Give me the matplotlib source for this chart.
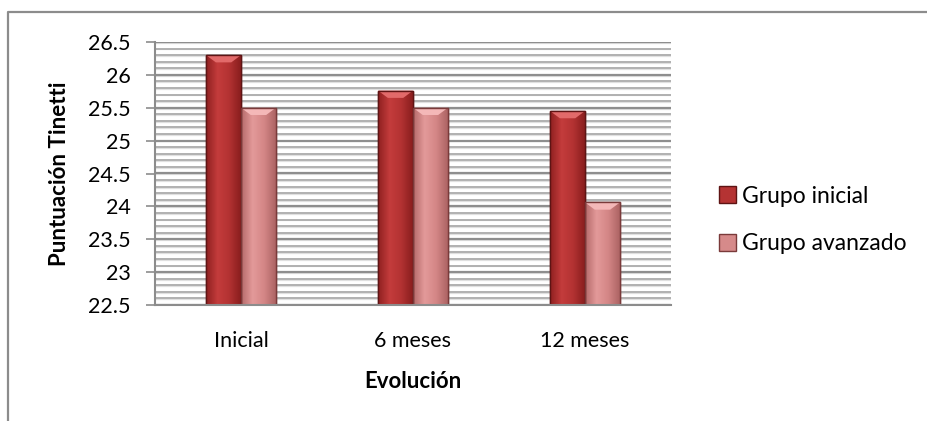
import matplotlib
matplotlib.use("Agg")
import matplotlib.pyplot as plt
import numpy as np
from matplotlib.patches import Polygon, Rectangle
from matplotlib.lines import Line2D

plt.rcParams['font.family'] = ['Lato', 'DejaVu Sans']

categories = ["Inicial", "6 meses", "12 meses"]
series_names = ["Grupo inicial", "Grupo avanzado"]
grupo_inicial = [26.3, 25.76, 25.45]
grupo_avanzado = [25.5, 25.5, 24.06]
y_ticks = [22.5, 23, 23.5, 24, 24.5, 25, 25.5, 26, 26.5]
y_tick_labels = ["22.5", "23", "23.5", "24", "24.5", "25", "25.5", "26", "26.5"]

# colour ramps across each bar (left edge -> centre -> right edge)
styles = {
    "Grupo inicial": dict(ramp=["#8F2020", "#C43C3C", "#B33232", "#8A1E1E"],
                          bevel="#E26A6A", edge="#5E1414", face="#B53333"),
    "Grupo avanzado": dict(ramp=["#B56A6A", "#E39A9A", "#D48686", "#AD6464"],
                           bevel="#F4B8B8", edge="#7A3A3A", face="#D68A8A"),
}

W, H, DPI = 928, 421, 100
fig = plt.figure(figsize=(W / DPI, H / DPI), dpi=DPI)
fig.patch.set_facecolor("white")

# chart-area frame (left and top edges visible)
fig.add_artist(Line2D([8 / W, 8 / W, 1.0], [0.0, 1 - 12 / H, 1 - 12 / H],
                      transform=fig.transFigure, color="#8C8C8C", lw=1.6))

left, right, top, bottom = 155 / W, 671 / W, 42 / H, 305 / H
ax = fig.add_axes([left, 1 - bottom, right - left, bottom - top])

ymin, ymax = 22.5, 26.5

# horizontal grid: light lines every 0.1, darker every 0.5
for v in np.arange(ymin, ymax + 1e-9, 0.1):
    major = abs(v * 2 - round(v * 2)) < 1e-6
    ax.axhline(v, color="#8E8E8E" if major else "#B0B0B0",
               lw=1.6 if major else 1.4, zorder=0.5)
    ax.axhline(v - 0.013, color="#E0E0E0", lw=0.9, zorder=0.4)

x = np.arange(len(categories))
bw = 0.203
offsets = [-bw / 2, bw / 2]
bevel_d = 0.11

for vals, name, off in zip([grupo_inicial, grupo_avanzado], series_names, offsets):
    st = styles[name]
    bars = ax.bar(x + off, np.array(vals) - ymin, bw, bottom=ymin,
                  color=st["face"], edgecolor=st["edge"], linewidth=1.0, zorder=2)
    cmap = matplotlib.colors.LinearSegmentedColormap.from_list(name, st["ramp"])
    grad = np.linspace(0, 1, 64).reshape(1, -1)
    for b in bars:
        x0, y0 = b.get_x(), b.get_y()
        w, h = b.get_width(), b.get_height()
        im = ax.imshow(grad, cmap=cmap, aspect="auto", extent=[x0, x0 + w, y0, y0 + h],
                       zorder=2.1, interpolation="bicubic")
        im.set_clip_path(b)
        top_y = y0 + h
        ax.add_patch(Polygon([[x0, top_y], [x0 + w, top_y],
                              [x0 + w * 0.72, top_y - bevel_d], [x0 + w * 0.28, top_y - bevel_d]],
                             closed=True, facecolor=st["bevel"], edgecolor="none", zorder=2.2))
        ax.add_patch(Rectangle((x0, y0), w, h, facecolor="none", edgecolor=st["edge"],
                               lw=1.0, zorder=2.3))
ax.set_xlim(-0.5, 2.5)
ax.set_ylim(ymin, ymax)

ax.set_xticks(x)
ax.set_xticklabels(categories, fontsize=15.5)
ax.tick_params(axis="x", length=0, pad=19)
ax.set_yticks(y_ticks)
ax.set_yticklabels(y_tick_labels, fontsize=15.5)
ax.tick_params(axis="y", length=6.5, width=1.2, color="#8C8C8C", pad=11)

for s in ["top", "right"]:
    ax.spines[s].set_visible(False)
for s in ["left", "bottom"]:
    ax.spines[s].set_color("#8C8C8C")
    ax.spines[s].set_linewidth(1.5)
ax.set_facecolor("white")

fig.text(60 / W, 1 - 174 / H, "Puntuación Tinetti", rotation=90, ha="center", va="center",
         fontsize=16, fontweight="bold")
fig.text(413 / W, 1 - 381 / H, "Evolución", ha="center", va="center",
         fontsize=16, fontweight="bold")

handles = [Rectangle((0, 0), 1, 1, facecolor=styles[n]["face"], edgecolor=styles[n]["edge"], lw=1.0)
           for n in series_names]
fig.legend(handles, series_names, loc="center left", bbox_to_anchor=(698 / W, 1 - 220 / H),
           frameon=False, fontsize=16.5, handlelength=0.75, handleheight=0.75,
           handletextpad=0.25, labelspacing=1.15)

fig.savefig("out.png", dpi=DPI)
